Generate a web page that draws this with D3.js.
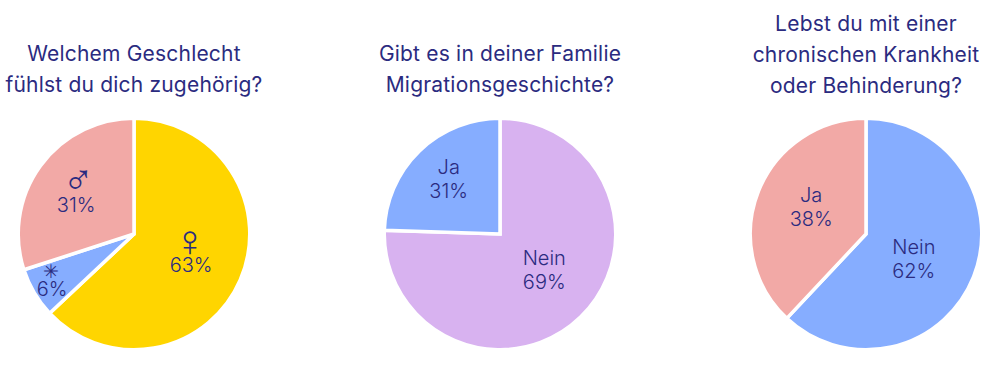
<!DOCTYPE html>
<html lang="de">

<head>
    <meta charset="UTF-8">
    <title>Umfrage</title>
    <script src="https://cdn.jsdelivr.net/npm/d3@7"></script>
    <style>
        html, body { margin: 0; background: #fff; }
        text { font-family: Inter, "Noto Sans", sans-serif; fill: #2b2b80; }
        .symbol { font-family: "DejaVu Sans", sans-serif; }
    </style>
</head>

<body>
    <script>
        // the wedges are drawn smaller/larger than the printed percent in the original,
        // so shares = what the wedge shows, percents = what is printed
        var titles1 = ["Welchem Geschlecht", "fühlst du dich zugehörig?"],
            names1 = ["♀", "✳", "♂"],
            shares1 = [63, 7, 30],
            percents1 = [63, 6, 31],
            colors1 = ["#ffd500", "#86adff", "#f2a9a6"];

        var titles2 = ["Gibt es in deiner Familie", "Migrationsgeschichte?"],
            names2 = ["Nein", "Ja"],
            shares2 = [75.5, 24.5],
            percents2 = [69, 31],
            colors2 = ["#d8b2f0", "#86adff"];

        var titles3 = ["Lebst du mit einer", "chronischen Krankheit", "oder Behinderung?"],
            names3 = ["Nein", "Ja"],
            shares3 = [62, 38],
            percents3 = [62, 38],
            colors3 = ["#86adff", "#f2a9a6"];

        var width = 1000,
            height = 387,
            radius = 115.75,
            centerY = 234;

        var svg = d3.select("body").append("svg")
            .attr("width", width)
            .attr("height", height)
            .style("display", "block");

        var pie = d3.pie().sort(null).value(function (d) { return d; });
        var arc = d3.arc().innerRadius(0).outerRadius(radius);

        // nudges from the arc centroid to where the labels sit
        // symbols: [font size, y, x] for the glyphs in the first pie
        function drawPie(cx, titles, titleLast, names, shares, percents, colors, nudges, symbols) {
            var g = svg.append("g").attr("transform", "translate(" + cx + "," + centerY + ")");

            g.selectAll("path")
                .data(pie(shares))
                .enter().append("path")
                .attr("d", arc)
                .attr("fill", function (d, i) { return colors[i]; })
                .attr("stroke", "#fff")
                .attr("stroke-width", 3.5);

            var label = g.selectAll("g.label")
                .data(pie(shares))
                .enter().append("g")
                .attr("class", "label")
                .attr("transform", function (d, i) {
                    var c = arc.centroid(d);
                    return "translate(" + (c[0] + nudges[i][0]) + "," + (c[1] + nudges[i][1]) + ")";
                })
                .attr("text-anchor", "middle")
                .style("font-size", "20px")
                .style("font-weight", 300);

            label.append("text")
                .attr("class", symbols ? "symbol" : null)
                .attr("x", function (d, i) { return symbols ? symbols[i][2] : 0; })
                .attr("y", function (d, i) { return symbols ? symbols[i][1] : -6; })
                .style("font-size", function (d, i) { return symbols ? symbols[i][0] + "px" : null; })
                .text(function (d, i) { return names[i]; });
            label.append("text")
                .attr("y", 18)
                .text(function (d, i) { return percents[i] + "%"; });

            svg.append("g").selectAll("text")
                .data(titles)
                .enter().append("text")
                .attr("x", cx)
                .attr("y", function (d, i) { return titleLast - (titles.length - 1 - i) * 31; })
                .attr("text-anchor", "middle")
                .style("font-size", "21px")
                .style("letter-spacing", "0.2px")
                .text(function (d) { return d; });
        }

        drawPie(134, titles1, 92, names1, shares1, percents1, colors1,
            [[4, -3], [-32, 15], [-11, -6]], [[44, 2, -1], [19, 0, -1], [42, 0, 2]]);
        drawPie(500, titles2, 92, names2, shares2, percents2, colors2, [[4, -5], [-11, -12]]);
        drawPie(866, titles3, 93, names3, shares3, percents3, colors3, [[-6, 5], [-1, -5]]);
    </script>
</body>

</html>
